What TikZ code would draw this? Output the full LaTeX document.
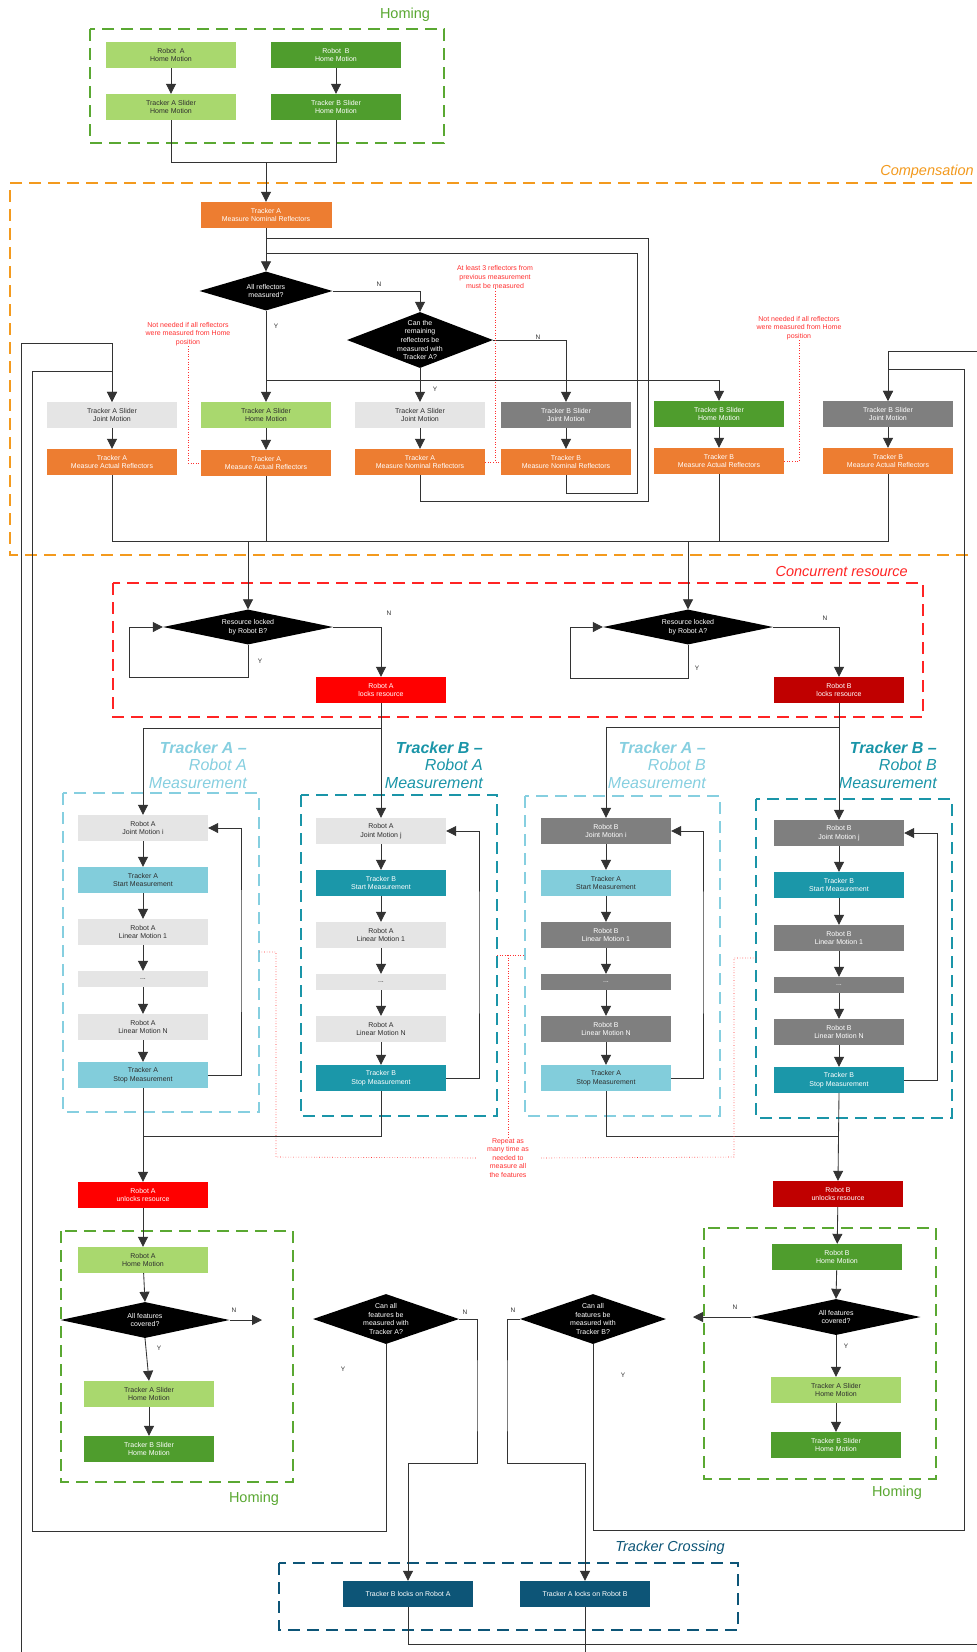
\documentclass[tikz,border=0pt]{standalone}
\usepackage{fontspec}
\setmainfont{Liberation Sans}
\usetikzlibrary{arrows.meta,shapes.geometric}
\definecolor{lgreen}{HTML}{A9D86E}
\definecolor{dgreen}{HTML}{4F9D2D}
\definecolor{orng}{HTML}{ED7D31}
\definecolor{lgrey}{HTML}{E5E5E5}
\definecolor{dgrey}{HTML}{7F7F7F}
\definecolor{lblue}{HTML}{82CDDB}
\definecolor{tealb}{HTML}{1B97A9}
\definecolor{redb}{HTML}{FF0000}
\definecolor{dred}{HTML}{C00000}
\definecolor{navy}{HTML}{0D5577}
\definecolor{gdash}{HTML}{5AA832}
\definecolor{odash}{HTML}{F39A1E}
\definecolor{rdash}{HTML}{FF2424}
\definecolor{lbdash}{HTML}{86CFE0}
\definecolor{tdash}{HTML}{1A95A8}
\definecolor{linec}{HTML}{333333}
\definecolor{txtd}{HTML}{2E2E2E}
\definecolor{notec}{HTML}{FF3030}
\newcommand{\mydia}[5]{\node[dia, minimum width=#3pt, minimum height=#4pt] (#1) at (#2) {}; \node[diatxt] (#1t) at (#1) {#5};}
\tikzset{
 box/.style={rectangle, minimum width=130pt, minimum height=26pt, inner sep=1pt, align=center, font=\fontsize{7}{8.6}\selectfont},
 lgb/.style={box, fill=lgreen, text=txtd},
 dgb/.style={box, fill=dgreen, text=white},
 orb/.style={box, fill=orng, text=white},
 lgyb/.style={box, fill=lgrey, text=txtd},
 dgyb/.style={box, fill=dgrey, text=white},
 lbb/.style={box, fill=lblue, text=txtd},
 tlb/.style={box, fill=tealb, text=white},
 rdb/.style={box, fill=redb, text=white},
 drb/.style={box, fill=dred, text=white},
 nvb/.style={box, fill=navy, text=white},
 dotbox/.style={minimum height=16pt},
 dia/.style={diamond, fill=black, inner sep=0pt},
 diatxt/.style={text=white, align=center, font=\fontsize{7}{8.6}\selectfont, inner sep=0pt},
 yn/.style={font=\fontsize{6.5}{7}\selectfont, text=txtd, inner sep=0pt},
 note/.style={text=notec, align=center, font=\fontsize{7}{8.6}\selectfont, inner sep=0pt},
 conn/.style={draw=linec, line width=0.85pt},
 arr/.style={conn, -{Triangle[width=10pt,length=10pt]}},
 rdot/.style={draw=notec, dotted, line width=0.6pt},
 grp/.style={dash pattern=on 12pt off 7pt, line width=2.5pt},
 gtitle/.style={font=\fontsize{14.5}{17}\selectfont, inner sep=0pt},
 mtitle/.style={anchor=east, align=right, font=\fontsize{16}{17.5}\selectfont\itshape, inner sep=0pt},
}
\begin{document}
\begin{tikzpicture}[x=1pt, y=-1pt]
\fill[white] (0,0) rectangle (977,1652);
\useasboundingbox (0,0) rectangle (977,1652);

% ---------- group frames ----------
\draw[grp, gdash] (90,29) rectangle (444,143);
\node[gtitle, text=gdash] (tHom1) at (405,15) {Homing};
\draw[grp, odash] (972,183) -- (10,183) -- (10,555) -- (972,555);
\node[gtitle, text=odash, anchor=east, font=\fontsize{14.5}{17}\selectfont\itshape] (tComp) at (974,172) {Compensation};
\draw[grp, rdash] (113,583) rectangle (923,717);
\node[gtitle, text=rdash, anchor=east, font=\fontsize{14.5}{17}\selectfont\itshape] (tConc) at (908,571) {Concurrent resource};
\draw[grp, lbdash] (63,793) rectangle (259,1112);
\draw[grp, tdash] (301,795) rectangle (497,1116);
\draw[grp, lbdash] (525,796) rectangle (720,1116);
\draw[grp, tdash] (756,799) rectangle (952,1118);
\node[mtitle, text=lbdash] (tAA) at (247,765) {\textbf{Tracker A –}\\Robot A\\Measurement};
\node[mtitle, text=tdash] (tBA) at (483,765) {\textbf{Tracker B –}\\Robot A\\Measurement};
\node[mtitle, text=lbdash] (tAB) at (706,765) {\textbf{Tracker A –}\\Robot B\\Measurement};
\node[mtitle, text=tdash] (tBB) at (937,765) {\textbf{Tracker B –}\\Robot B\\Measurement};
\draw[grp, gdash] (61,1231) rectangle (293,1482);
\node[gtitle, text=gdash] (tHom2) at (254,1499) {Homing};
\draw[grp, gdash] (704,1228) rectangle (936,1479);
\node[gtitle, text=gdash] (tHom3) at (897,1493) {Homing};
\draw[grp, navy] (279,1563) rectangle (738,1630);
\node[gtitle, text=navy, font=\fontsize{14.5}{17}\selectfont\itshape] (tCross) at (670,1548) {Tracker Crossing};

% ---------- top homing ----------
\node[lgb] (rAhome) at (171,55) {Robot~ A\\Home Motion};
\node[dgb] (rBhome) at (336,55) {Robot~ B\\Home Motion};
\node[lgb] (tAshome) at (171,107) {Tracker A Slider\\Home Motion};
\node[dgb] (tBshome) at (336,107) {Tracker B Slider\\Home Motion};

% ---------- compensation ----------
\node[orb, minimum width=131pt] (tAnom) at (266,215) {Tracker A\\Measure Nominal Reflectors};
\mydia{d1}{266,291}{133}{39}{All reflectors\\measured?}
\mydia{d2}{420,340}{146}{56}{Can the\\remaining\\reflectors be\\measured with\\Tracker A?}
\node[yn] (n1) at (379,284) {N};
\node[yn] (y1) at (276,326) {Y};
\node[yn] (n2) at (538,337) {N};
\node[yn] (y2) at (435,389) {Y};

\node[lgyb] (jA1) at (112,415) {Tracker A Slider\\Joint Motion};
\node[lgb]  (hA)  at (266,415) {Tracker A Slider\\Home Motion};
\node[lgyb] (jA2) at (420,415) {Tracker A Slider\\Joint Motion};
\node[dgyb] (jB1) at (566,415) {Tracker B Slider\\Joint Motion};
\node[dgb]  (hB)  at (719,414) {Tracker B Slider\\Home Motion};
\node[dgyb] (jB2) at (888,414) {Tracker B Slider\\Joint Motion};
\node[orb] (aA1) at (112,462) {Tracker A\\Measure Actual Reflectors};
\node[orb] (aA2) at (266,463) {Tracker A\\Measure Actual Reflectors};
\node[orb] (nA)  at (420,462) {Tracker A\\Measure Nominal Reflectors};
\node[orb] (nB)  at (566,462) {Tracker B\\Measure Nominal Reflectors};
\node[orb] (aB1) at (719,461) {Tracker B\\Measure Actual Reflectors};
\node[orb] (aB2) at (888,461) {Tracker B\\Measure Actual Reflectors};

\node[note] (noteA) at (188,334) {Not needed if all reflectors\\were measured from Home\\position};
\node[note] (noteB) at (495,277) {At least 3 reflectors from\\previous measurement\\must be measured};
\node[note] (noteC) at (799,328) {Not needed if all reflectors\\were measured from Home\\position};

% ---------- concurrent resource ----------
\mydia{res1}{248,627}{170}{35}{Resource locked\\by Robot B?}
\mydia{res2}{688,627}{170}{35}{Resource locked\\by Robot A?}
\node[yn] (n3) at (389,613) {N};
\node[yn] (y3) at (260,661) {Y};
\node[yn] (n4) at (825,618) {N};
\node[yn] (y4) at (697,668) {Y};
\node[rdb] (lockA) at (381,690) {Robot A\\locks resource};
\node[drb] (lockB) at (839,690) {Robot B\\locks resource};

% ---------- measurement columns ----------
\node[lgyb] (aaJ) at (143,828) {Robot A\\Joint Motion i};
\node[lbb]  (aaS) at (143,880) {Tracker A\\Start Measurement};
\node[lgyb] (aaL) at (143,932) {Robot A\\Linear Motion 1};
\node[lgyb, dotbox] (aaD) at (143,979) {...};
\node[lgyb] (aaN) at (143,1027) {Robot A\\Linear Motion N};
\node[lbb]  (aaE) at (143,1075) {Tracker A\\Stop Measurement};

\node[lgyb] (baJ) at (381,831) {Robot A\\Joint Motion j};
\node[tlb]  (baS) at (381,883) {Tracker B\\Start Measurement};
\node[lgyb] (baL) at (381,935) {Robot A\\Linear Motion 1};
\node[lgyb, dotbox] (baD) at (381,982) {...};
\node[lgyb] (baN) at (381,1029) {Robot A\\Linear Motion N};
\node[tlb]  (baE) at (381,1078) {Tracker B\\Stop Measurement};

\node[dgyb] (abJ) at (606,831) {Robot B\\Joint Motion i};
\node[lbb]  (abS) at (606,883) {Tracker A\\Start Measurement};
\node[dgyb] (abL) at (606,935) {Robot B\\Linear Motion 1};
\node[dgyb, dotbox] (abD) at (606,982) {...};
\node[dgyb] (abN) at (606,1029) {Robot B\\Linear Motion N};
\node[lbb]  (abE) at (606,1078) {Tracker A\\Stop Measurement};

\node[dgyb] (bbJ) at (839,833) {Robot B\\Joint Motion j};
\node[tlb]  (bbS) at (839,885) {Tracker B\\Start Measurement};
\node[dgyb] (bbL) at (839,938) {Robot B\\Linear Motion 1};
\node[dgyb, dotbox] (bbD) at (839,985) {...};
\node[dgyb] (bbN) at (839,1032) {Robot B\\Linear Motion N};
\node[tlb]  (bbE) at (839,1080) {Tracker B\\Stop Measurement};

\node[note, inner xsep=11pt] (rep) at (508,1158) {Repeat as\\many time as\\needed to\\measure all\\the features};

% ---------- lower part ----------
\node[rdb] (unA) at (143,1195) {Robot A\\unlocks resource};
\node[lgb] (hmA) at (143,1260) {Robot A\\Home Motion};
\mydia{afA}{145,1320}{169}{36}{All features\\covered?}
\node[lgb] (tAsl) at (149,1394) {Tracker A Slider\\Home Motion};
\node[dgb] (tBsl) at (149,1449) {Tracker B Slider\\Home Motion};
\node[yn] (n5) at (234,1310) {N};
\node[yn] (y5) at (159,1348) {Y};

\node[drb] (unB) at (838,1194) {Robot B\\unlocks resource};
\node[dgb] (hmB) at (837,1257) {Robot B\\Home Motion};
\mydia{afB}{836,1317}{169}{36}{All features\\covered?}
\node[lgb] (tAsr) at (836,1390) {Tracker A Slider\\Home Motion};
\node[dgb] (tBsr) at (836,1445) {Tracker B Slider\\Home Motion};
\node[yn] (n6) at (735,1307) {N};
\node[yn] (y6) at (846,1346) {Y};

\mydia{canA}{386,1319}{146}{50}{Can all\\features be\\measured with\\Tracker A?}
\mydia{canB}{593,1319}{146}{50}{Can all\\features be\\measured with\\Tracker B?}
\node[yn] (n7) at (465,1312) {N};
\node[yn] (y7) at (343,1369) {Y};
\node[yn] (n8) at (513,1310) {N};
\node[yn] (y8) at (623,1375) {Y};

\node[nvb] (xBA) at (408,1594) {Tracker B locks on Robot A};
\node[nvb] (xAB) at (585,1594) {Tracker A locks on Robot B};

% ---------- coordinates ----------
\coordinate (hj) at (266,162);
\coordinate (cY) at (266,380);
\coordinate (rA) at (648,501);
\coordinate (mA) at (266,238);
\coordinate (rB) at (637,493);
\coordinate (mB) at (266,253);
\coordinate (jA) at (248,541);
\coordinate (jB) at (688,541);
\coordinate (nbj) at (495,462);
\coordinate (ry1) at (129,677);
\coordinate (ry2) at (570,678);
\coordinate (eA) at (143,728);
\coordinate (eB) at (606,727);
\coordinate (xA) at (143,1136);
\coordinate (xB) at (839,1136);
\coordinate (lpaa) at (241,950);
\coordinate (lpba) at (479,950);
\coordinate (lpab) at (703,950);
\coordinate (lpbb) at (937,950);
\coordinate (fAN) at (262,1320);
\coordinate (fBN) at (693,1317);
\coordinate (cA1) at (477,1400);
\coordinate (cA2) at (408,1463);
\coordinate (cB1) at (507,1400);
\coordinate (cB2) at (585,1463);
\coordinate (lA1) at (32,1531);
\coordinate (lA2) at (112,371);
\coordinate (rB1) at (964,1530);
\coordinate (rB2) at (888,369);
\coordinate (oL1) at (21,1652);
\coordinate (oL2) at (112,343);
\coordinate (oR1) at (977,351);
\coordinate (oR2) at (888,351);
\coordinate (oB1) at (977,1644);
\coordinate (oB2) at (585,1652);
\coordinate (rl1) at (259,952);
\coordinate (rl2) at (276,1157);
\coordinate (rm1) at (497,955);
\coordinate (rm2) at (525,955);
\coordinate (rm3) at (508,955);
\coordinate (rr1) at (756,958);
\coordinate (rr2) at (734,1157);

% ---------- connectors ----------
\draw[arr] (rAhome) -- (tAshome);
\draw[arr] (rBhome) -- (tBshome);
\draw[conn] (tAshome.south) |- (hj);
\draw[conn] (tBshome.south) |- (hj);
\draw[arr] (hj) -- (tAnom.north);
\draw[arr] (tAnom.south) -- (d1.north);
\draw[arr] (d1.east) -| (d2.north);
\draw[arr] (d1.south) -- (hA.north);
\draw[arr] (cY) -| (hB.north);
\draw[arr] (d2.south) -- (jA2.north);
\draw[arr] (d2.east) -| (jB1.north);
\draw[arr] (jA1) -- (aA1);
\draw[arr] (hA) -- (aA2);
\draw[arr] (jA2) -- (nA);
\draw[arr] (jB1) -- (nB);
\draw[arr] (hB) -- (aB1);
\draw[arr] (jB2) -- (aB2);
\draw[conn] (nA.south) |- (rA) |- (mA);
\draw[conn] (nB.south) |- (rB) |- (mB);
\draw[conn] (aA1.south) |- (jA);
\draw[conn] (aA2.south) |- (jA);
\draw[conn] (aB1.south) |- (jA);
\draw[conn] (aB2.south) |- (jB);
\draw[arr] (jA) -- (res1.north);
\draw[arr] (jB) -- (res2.north);
\draw[arr] (oL1) |- (oL2) -- (jA1.north);
\draw[arr] (canA.south) |- (lA1) |- (lA2) -- (jA1.north);
\draw[arr] (oR1) -- (oR2) -- (jB2.north);
\draw[arr] (canB.south) |- (rB1) |- (rB2) -- (jB2.north);

\draw[rdot] (noteA.south) |- (aA2.west);
\draw[rdot] (noteB.south) -- (nbj);
\draw[rdot] (nA.east) -- (nB.west);
\draw[rdot] (noteC.south) |- (aB1.east);

\draw[arr] (res1.south) |- (ry1) |- (res1.west);
\draw[arr] (res2.south) |- (ry2) |- (res2.west);
\draw[arr] (res1.east) -| (lockA.north);
\draw[arr] (res2.east) -| (lockB.north);

\draw[arr] (lockA.south) -- (baJ.north);
\draw[arr] (lockA.south) |- (eA) -- (aaJ.north);
\draw[arr] (lockB.south) -- (bbJ.north);
\draw[arr] (lockB.south) |- (eB) -- (abJ.north);
\foreach \c in {aa,ba,ab,bb}{
  \draw[arr] (\c J) -- (\c S);
  \draw[arr] (\c S) -- (\c L);
  \draw[arr] (\c L) -- (\c D);
  \draw[arr] (\c D) -- (\c N);
  \draw[arr] (\c N) -- (\c E);
  \draw[arr] (\c E.east) -| (lp\c) |- (\c J.east);
}
\draw[arr] (aaE.south) -- (unA.north);
\draw[conn] (baE.south) |- (xA);
\draw[arr] (bbE.south) -- (unB.north);
\draw[conn] (abE.south) |- (xB);

\draw[rdot] (rl1) -| (rl2) -- (rep.west);
\draw[rdot] (rm1) -- (rm2);
\draw[rdot] (rm3) -- (rep.north);
\draw[rdot] (rr1) -| (rr2) -- (rep.east);

\draw[arr] (unA) -- (hmA);
\draw[arr] (hmA) -- (afA.north);
\draw[arr] (afA.south) -- (tAsl.north);
\draw[arr] (tAsl) -- (tBsl);
\draw[arr] (afA.east) -- (fAN);
\draw[arr] (unB) -- (hmB);
\draw[arr] (hmB) -- (afB.north);
\draw[arr] (afB.south) -- (tAsr.north);
\draw[arr] (tAsr) -- (tBsr);
\draw[arr] (afB.west) -- (fBN);

\draw[arr] (canA.east) -| (cA1) |- (cA2) -- (xBA.north);
\draw[arr] (canB.west) -| (cB1) |- (cB2) -- (xAB.north);
\draw[conn] (xBA.south) |- (oB1);
\draw[conn] (xAB.south) -- (oB2);
\end{tikzpicture}
\end{document}
